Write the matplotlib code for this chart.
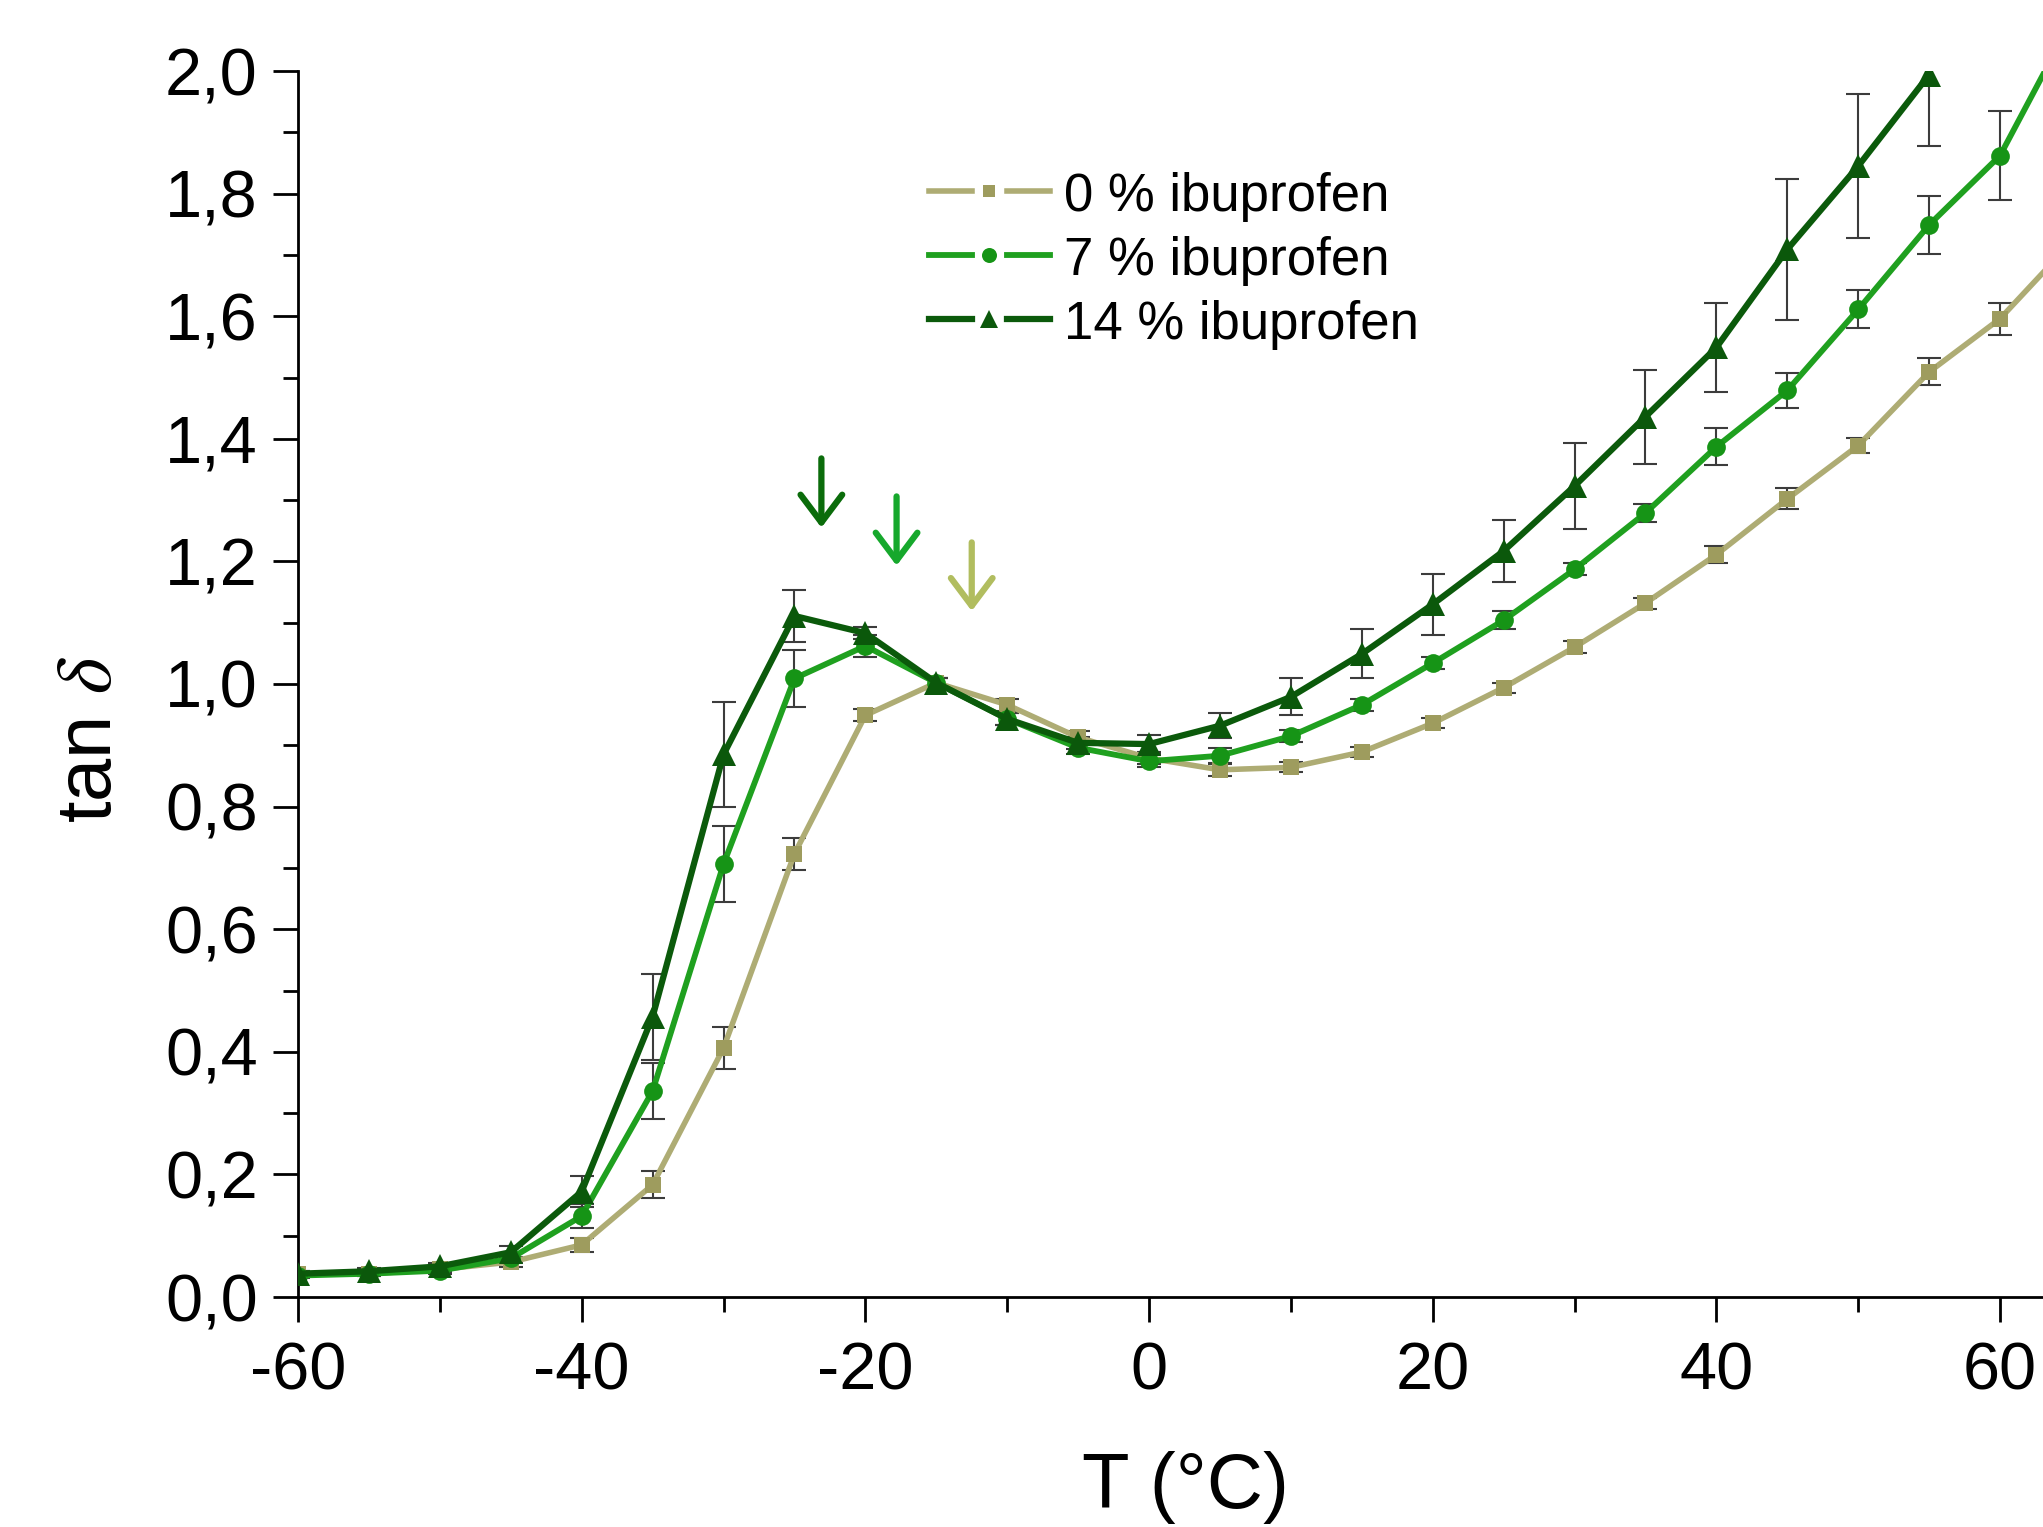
import matplotlib
matplotlib.use('Agg')
import matplotlib.pyplot as plt
from matplotlib.ticker import MultipleLocator, FuncFormatter

plt.rcParams['font.family'] = ['Liberation Sans', 'DejaVu Sans']
plt.rcParams['mathtext.fontset'] = 'stix'
plt.rcParams['axes.unicode_minus'] = False

# temperature, degC
temp = [-60, -55, -50, -45, -40, -35, -30, -25, -20, -15, -10, -5, 0,
        5, 10, 15, 20, 25, 30, 35, 40, 45, 50, 55, 60, 65]

tan0 = [0.038, 0.038, 0.045, 0.057, 0.085, 0.183, 0.406, 0.723, 0.949, 1.002,
        0.966, 0.913, 0.879, 0.860, 0.864, 0.889, 0.936, 0.994, 1.060, 1.132,
        1.211, 1.302, 1.389, 1.509, 1.596, 1.720]
err0 = [0.004, 0.004, 0.005, 0.008, 0.012, 0.022, 0.034, 0.026, 0.010, 0.008,
        0.010, 0.010, 0.010, 0.010, 0.008, 0.008, 0.008, 0.008, 0.010, 0.009,
        0.014, 0.017, 0.012, 0.022, 0.026, 0.030]

tan7 = [0.035, 0.038, 0.043, 0.063, 0.132, 0.336, 0.706, 1.009, 1.062, 1.002,
        0.943, 0.896, 0.874, 0.883, 0.915, 0.966, 1.034, 1.104, 1.187, 1.279,
        1.387, 1.479, 1.611, 1.749, 1.862, 2.080]
err7 = [0.004, 0.004, 0.005, 0.008, 0.020, 0.045, 0.062, 0.047, 0.018, 0.008,
        0.010, 0.010, 0.010, 0.012, 0.010, 0.010, 0.010, 0.015, 0.010, 0.015,
        0.030, 0.029, 0.031, 0.047, 0.073, 0.080]

temp14 = temp[:24]
tan14 = [0.038, 0.042, 0.050, 0.073, 0.172, 0.457, 0.885, 1.111, 1.083, 1.002,
         0.943, 0.904, 0.902, 0.932, 0.979, 1.049, 1.130, 1.217, 1.323, 1.436,
         1.549, 1.709, 1.845, 1.994]
err14 = [0.004, 0.005, 0.006, 0.010, 0.025, 0.070, 0.085, 0.042, 0.010, 0.008,
         0.010, 0.010, 0.015, 0.020, 0.030, 0.040, 0.050, 0.050, 0.070, 0.077,
         0.072, 0.115, 0.118, 0.116]

labels = ['0 % ibuprofen', '7 % ibuprofen', '14 % ibuprofen']

# peak arrows: (T, top, tip)
arrows_t = [-23.1, -17.8, -12.5]
arrows_top = [1.368, 1.306, 1.231]
arrows_tip = [1.255, 1.193, 1.119]
arrow_colors = ['#0b6c0b', '#16a82c', '#b1bd5f']

W, H = 2043, 1527
fig = plt.figure(figsize=(W / 100, H / 100), dpi=100)


def fx(x):
    return x / W


def fy(y):
    return 1 - y / H


ax = fig.add_axes([fx(298), fy(1297), 1773 / W, (1297 - 71) / H])

series = [
    (temp, tan0, err0, '#aeac74', '#9e9c5e', 's', 11, 4.0),
    (temp, tan7, err7, '#1fa01f', '#169416', 'o', 13.5, 4.2),
    (temp14, tan14, err14, '#0b5a0b', '#0b580b', '^', 17, 4.5),
]

for i, (t, y, e, lc, mc, mk, ms, lw) in enumerate(series):
    ax.errorbar(t, y, yerr=e, fmt='none', ecolor='#3c3c3c', elinewidth=1.5,
                capsize=8.5, capthick=1.5, zorder=2 + i * 0.1)
    ax.plot(t, y, color=lc, lw=lw, marker=mk, ms=ms, mfc=mc, mec=mc,
            mew=0, zorder=3 + i * 0.1)

for t, y0, y1, c in zip(arrows_t, arrows_top, arrows_tip, arrow_colors):
    ax.annotate('', xy=(t, y1), xytext=(t, y0),
                arrowprops=dict(arrowstyle='->,head_length=0.4,head_width=0.3',
                                color=c, lw=4.5, mutation_scale=50,
                                shrinkA=0, shrinkB=0))

ax.set_xlim(-60, 65)
ax.set_ylim(0, 2.0)
ax.xaxis.set_major_locator(MultipleLocator(20))
ax.xaxis.set_minor_locator(MultipleLocator(10))
ax.yaxis.set_major_locator(MultipleLocator(0.2))
ax.yaxis.set_minor_locator(MultipleLocator(0.1))
ax.yaxis.set_major_formatter(FuncFormatter(lambda v, p: ('%.1f' % v).replace('.', ',')))
ax.xaxis.set_major_formatter(FuncFormatter(lambda v, p: '%d' % round(v)))

for s in ['top', 'right']:
    ax.spines[s].set_visible(False)
for s in ['left', 'bottom']:
    ax.spines[s].set_linewidth(2)

ax.tick_params(which='major', direction='out', length=18, width=2, labelsize=48)
ax.tick_params(which='minor', direction='out', length=11, width=2)
ax.tick_params(axis='y', which='major', pad=11)
ax.tick_params(axis='x', which='major', pad=14)

fig.text(fx(1185), fy(1487), 'T (°C)', fontsize=56, ha='center', va='center')
fig.text(fx(91), fy(739), r'tan $\delta$', fontsize=56, ha='center', va='center',
         rotation=90)

# legend, Origin style: line - marker - line
rows_y = [191, 255, 319]
for (t, y, e, lc, mc, mk, ms, lw), lab, ry in zip(series, labels, rows_y):
    fig.add_artist(plt.Line2D([fx(929), fx(972)], [fy(ry), fy(ry)], color=lc, lw=lw,
                              transform=fig.transFigure))
    fig.add_artist(plt.Line2D([fx(1007), fx(1050)], [fy(ry), fy(ry)], color=lc, lw=lw,
                              transform=fig.transFigure))
    fig.add_artist(plt.Line2D([fx(989)], [fy(ry)], marker=mk, ms=ms * 0.8, mfc=mc,
                              mec=mc, mew=0, transform=fig.transFigure))
    fig.text(fx(1064), fy(ry), lab, fontsize=38, ha='left', va='center_baseline')

fig.savefig('out.png', dpi=100)
